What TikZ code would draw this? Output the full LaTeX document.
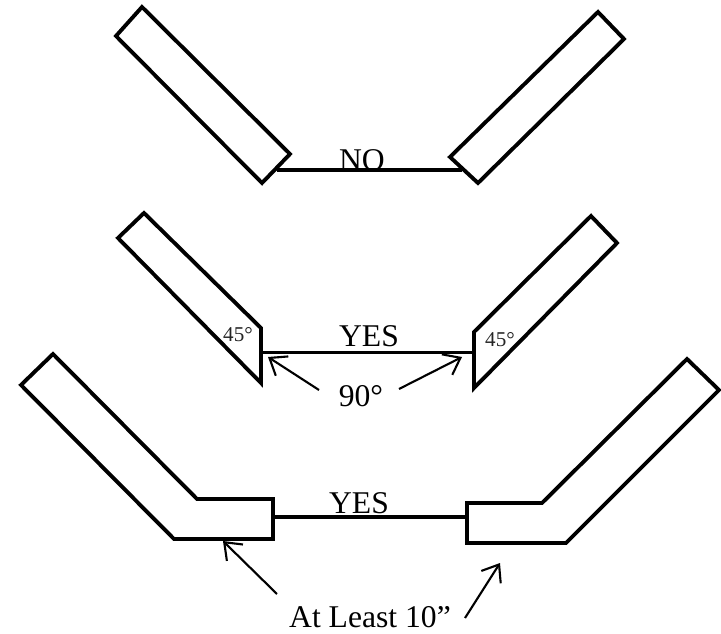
\documentclass[tikz,border=0pt]{standalone}
\usepackage{fontspec}
\setmainfont{Liberation Serif}
\usetikzlibrary{arrows.meta}
\tikzset{
	plate/.style={line width=2.2pt,line join=miter},
	tie/.style={line width=2.2pt},
	pointer/.style={line width=1.2pt,-{Straight Barb[length=0.3cm,width=0.46cm,line width=1.2pt]}},
	biglabel/.style={font=\fontsize{18}{20}\selectfont,anchor=base,inner sep=0pt},
	anglelabel/.style={font=\fontsize{12}{14}\selectfont,text=black!85,inner sep=0pt}
}
\begin{document}
\begin{tikzpicture}
	\useasboundingbox (0,0) rectangle (14.42,12.66);

	\draw[plate] (2.84,12.52) -- (2.32,11.94) -- (5.24,9.00) -- (5.80,9.58) -- cycle;
	\draw[plate] (11.96,12.42) -- (12.48,11.88) -- (9.56,9.00) -- (9.00,9.52) -- cycle;
	\coordinate (noleft) at (5.54,9.26);
	\coordinate (noright) at (9.24,9.26);
	\draw[tie] (noleft) -- (noright);
	\node[biglabel] (notext) at (7.24,9.26) {NO};

	\draw[plate] (2.88,8.40) -- (2.36,7.90) -- (5.22,5.00) -- (5.22,6.10) -- cycle;
	\draw[plate] (11.82,8.34) -- (12.34,7.80) -- (9.48,4.90) -- (9.48,6.02) -- cycle;
	\coordinate (midleft) at (5.22,5.61);
	\coordinate (midright) at (9.48,5.61);
	\draw[tie] (midleft) -- (midright);
	\node[biglabel] (midtext) at (7.38,5.72) {YES};
	\node[anglelabel] (angleleft) at (4.76,5.96) {45°};
	\node[anglelabel] (angleright) at (10.00,5.86) {45°};
	\node[biglabel] (righttext) at (7.22,4.52) {90°};
	\coordinate (tailleft) at (6.38,4.86);
	\coordinate (tipleft) at (5.36,5.52);
	\coordinate (tailright) at (7.98,4.88);
	\coordinate (tipright) at (9.24,5.52);
	\draw[pointer] (tailleft) -- (tipleft);
	\draw[pointer] (tailright) -- (tipright);

	\draw[plate] (1.06,5.58) -- (0.42,4.96) -- (3.48,1.88) -- (5.46,1.88) -- (5.46,2.68) -- (3.94,2.68) -- cycle;
	\draw[plate] (13.74,5.48) -- (14.38,4.86) -- (11.32,1.80) -- (9.34,1.80) -- (9.34,2.60) -- (10.84,2.60) -- cycle;
	\coordinate (lowleft) at (5.46,2.32);
	\coordinate (lowright) at (9.34,2.32);
	\draw[tie] (lowleft) -- (lowright);
	\node[biglabel] (lowtext) at (7.18,2.40) {YES};
	\node[biglabel] (leasttext) at (7.40,0.10) {At Least 10”};
	\coordinate (leasttailleft) at (5.54,0.78);
	\coordinate (leasttipleft) at (4.46,1.84);
	\coordinate (leasttailright) at (9.30,0.30);
	\coordinate (leasttipright) at (10.00,1.40);
	\draw[pointer] (leasttailleft) -- (leasttipleft);
	\draw[pointer] (leasttailright) -- (leasttipright);
\end{tikzpicture}
\end{document}
